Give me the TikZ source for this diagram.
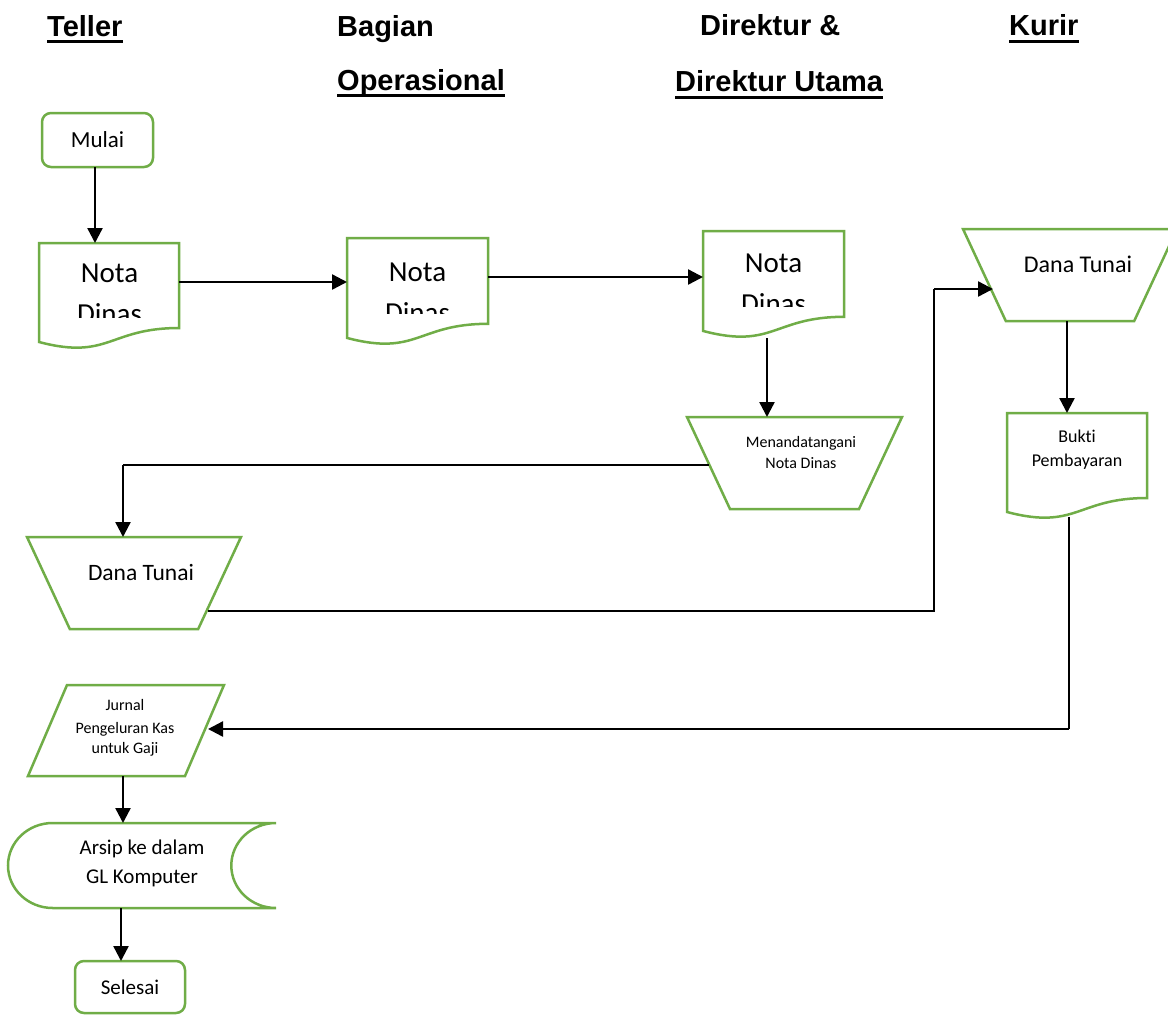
\documentclass[tikz,border=0pt]{standalone}
\usepackage{fontspec}
\setmainfont{Carlito}[Ligatures=NoCommon]
\newfontfamily\hdrfont{Liberation Sans}
\usetikzlibrary{arrows.meta,calc}
\definecolor{shpgreen}{RGB}{112,173,71}
\tikzset{
  shp/.style={draw=shpgreen, line width=2.5pt, line join=miter},
  box/.style={inner sep=0pt, outer sep=0pt, draw=none},
  rbox/.style={draw=shpgreen, line width=2.5pt, rounded corners=9pt, inner sep=0pt, outer sep=0pt},
  arr/.style={line width=2.4pt, -{Triangle[length=15pt,width=15pt]}},
  thinln/.style={line width=1.3pt},
  hdr/.style={anchor=base west, inner sep=0pt, font=\hdrfont\bfseries\fontsize{29}{35}\selectfont},
  uline/.style={line width=3pt},
  txt/.style={anchor=base, inner sep=0pt},
}
\newcommand\docshape[5]{%
  \node[box, minimum width=#4pt, minimum height=#5pt] (#1) at ({#2+#4/2},{#3+#5/2}) {};
  \draw[shp] (#2,#3) -- ({#2+#4},#3) -- ({#2+#4},{#3+0.802*#5})
    .. controls ({#2+#4/2},{#3+0.802*#5}) and ({#2+#4/2},{#3+1.1075*#5}) .. (#2,{#3+0.934*#5}) -- cycle;
}
\newcommand\manop[5]{%
  \node[box, minimum width=#4pt, minimum height=#5pt] (#1) at ({#2+#4/2},{#3+#5/2}) {};
  \draw[shp] (#2,#3) -- ({#2+#4},#3) -- ({#2+0.8*#4},{#3+#5}) -- ({#2+0.2*#4},{#3+#5}) -- cycle;
}
\newcommand\parashape[6]{%
  \node[box, minimum width=#4pt, minimum height=#5pt] (#1) at ({#2+#4/2},{#3+#5/2}) {};
  \draw[shp] ({#2+#6},#3) -- ({#2+#4},#3) -- ({#2+#4-#6},{#3+#5}) -- (#2,{#3+#5}) -- cycle;
}
\begin{document}
\begin{tikzpicture}[x=1pt,y=-1pt]
\clip (0,0) rectangle (1168,1015);
\fill[white] (0,0) rectangle (1168,1015);

% headers
\node[hdr] (hTeller) at (47,36) {Teller};
\node[hdr] (hBagian) at (337,36) {Bagian};
\node[hdr] (hOps) at (337,90) {Operasional};
\node[hdr] (hDir) at (700,35) {Direktur \&};
\node[hdr] (hDirU) at (675,91) {Direktur Utama};
\node[hdr] (hKurir) at (1009,35) {Kurir};
\draw[uline] ([yshift=-5pt]hTeller.base west) -- ([yshift=-5pt]hTeller.base east);
\draw[uline] ([yshift=-5pt]hOps.base west) -- ([yshift=-5pt]hOps.base east);
\draw[uline] ([yshift=-6pt]hDirU.base west) -- ([yshift=-6pt]hDirU.base east);
\draw[uline] ([yshift=-6pt]hKurir.base west) -- ([yshift=-6pt]hKurir.base east);

% terminals
\node[rbox, minimum width=111pt, minimum height=54pt, font=\fontsize{23}{28}\selectfont] (mulai) at (97.5,140) {Mulai};
\node[rbox, minimum width=110pt, minimum height=52pt, font=\fontsize{21}{26}\selectfont] (selesai) at (130,987) {Selesai};

% documents
\docshape{nota1}{39}{243}{140}{106}
\docshape{nota2}{347}{238}{141}{107}
\docshape{nota3}{703}{231}{141}{107}
\docshape{bukti}{1007}{413}{140}{106}

\begin{scope}
  \clip (39,245) rectangle (179,317);
  \node[txt, font=\fontsize{29}{35}\selectfont] (n1a) at (109.5,282) {Nota};
  \node[txt, font=\fontsize{29}{35}\selectfont] (n1b) at (109.5,323) {Dinas};
\end{scope}
\begin{scope}
  \clip (347,240) rectangle (488,313);
  \node[txt, font=\fontsize{29}{35}\selectfont] (n2a) at (417.5,281) {Nota};
  \node[txt, font=\fontsize{29}{35}\selectfont] (n2b) at (417.5,322) {Dinas};
\end{scope}
\begin{scope}
  \clip (703,233) rectangle (844,306);
  \node[txt, font=\fontsize{29}{35}\selectfont] (n3a) at (773.5,272) {Nota};
  \node[txt, font=\fontsize{29}{35}\selectfont] (n3b) at (773.5,313) {Dinas};
\end{scope}
\node[txt, font=\fontsize{18}{22}\selectfont] (bka) at (1077,442) {Bukti};
\node[txt, font=\fontsize{18}{22}\selectfont] (bkb) at (1077,466) {Pembayaran};

% manual operations
\manop{mand}{687}{417}{215}{92}
\node[txt, font=\fontsize{16}{20}\selectfont] (mta) at (801,447) {Menandatangani};
\node[txt, font=\fontsize{16}{20}\selectfont] (mtb) at (801,468) {Nota Dinas};
\manop{dana1}{27}{537}{214}{92}
\node[txt, font=\fontsize{23.5}{28}\selectfont] (d1t) at (141,580) {Dana Tunai};
\manop{dana2}{963}{229}{214}{92}
\node[txt, font=\fontsize{24}{28}\selectfont] (d2t) at (1078,272) {Dana Tunai};

% journal (parallelogram)
\parashape{jurnal}{28}{685}{196}{91}{39}
\node[txt, font=\fontsize{16}{20}\selectfont] (ja) at (125,710) {Jurnal};
\node[txt, font=\fontsize{16}{20}\selectfont] (jb) at (125,733) {Pengeluran Kas};
\node[txt, font=\fontsize{16}{20}\selectfont] (jc) at (125,753) {untuk Gaji};

% stored data
\node[box, minimum width=268pt, minimum height=85pt] (arsip) at (142,865.5) {};
\draw[shp] (52.7,823) -- (276,823) arc[start angle=270, end angle=90, x radius=44.7, y radius=42.5]
  -- (52.7,908) arc[start angle=90, end angle=270, x radius=44.7, y radius=42.5] -- cycle;
\node[txt, font=\fontsize{21}{26}\selectfont] (aa) at (142,854) {Arsip ke dalam};
\node[txt, font=\fontsize{21}{26}\selectfont] (ab) at (142,883) {GL Komputer};

% connectors
\draw[arr] ([xshift=-2.5pt]mulai.south) -- ([xshift=-2.5pt]mulai.south |- nota1.north);
\draw[arr] ([yshift=14pt]nota1.east) -- ([yshift=14pt]nota1.east -| nota2.west);
\draw[arr] ([yshift=14.5pt]nota2.east) -- ([yshift=14.5pt]nota2.east -| nota3.west);
\draw[arr] ([xshift=-6.5pt]nota3.south) -- ([xshift=-6.5pt]nota3.south |- mand.north);

\coordinate (m1) at ([xshift=22pt,yshift=-2pt]mand.west);
\coordinate (m2) at ([xshift=-11pt]dana1.north |- m1);
\draw[thinln] (m1) -- (m2);
\draw[arr] (m2) -- ([xshift=-11pt]dana1.north);

\coordinate (d1) at ([xshift=-33pt,yshift=-28pt]dana1.east);
\coordinate (d2) at (934,611);
\coordinate (d3) at (934,289);
\coordinate (d4) at ([xshift=30pt,yshift=-14pt]dana2.west);
\draw[thinln] (d1) -- (d2) -- (d3);
\draw[arr] (d3) -- (d4);

\draw[arr] ([xshift=-3pt]dana2.south) -- ([xshift=-3pt]dana2.south |- bukti.north);

\coordinate (b1) at ([xshift=-8pt,yshift=2pt]bukti.south);
\coordinate (b2) at ([xshift=-8pt]bukti.south |- 0,729);
\coordinate (b3) at ([xshift=-16pt,yshift=1.5pt]jurnal.east);
\draw[thinln] (b1) -- (b2);
\draw[arr] (b2) -- (b3);

\draw[arr] ([xshift=-3pt]jurnal.south) -- ([xshift=-3pt]jurnal.south |- arsip.north);
\draw[arr] ([xshift=-9pt]selesai.north |- arsip.south) -- ([xshift=-9pt]selesai.north);
\end{tikzpicture}
\end{document}
